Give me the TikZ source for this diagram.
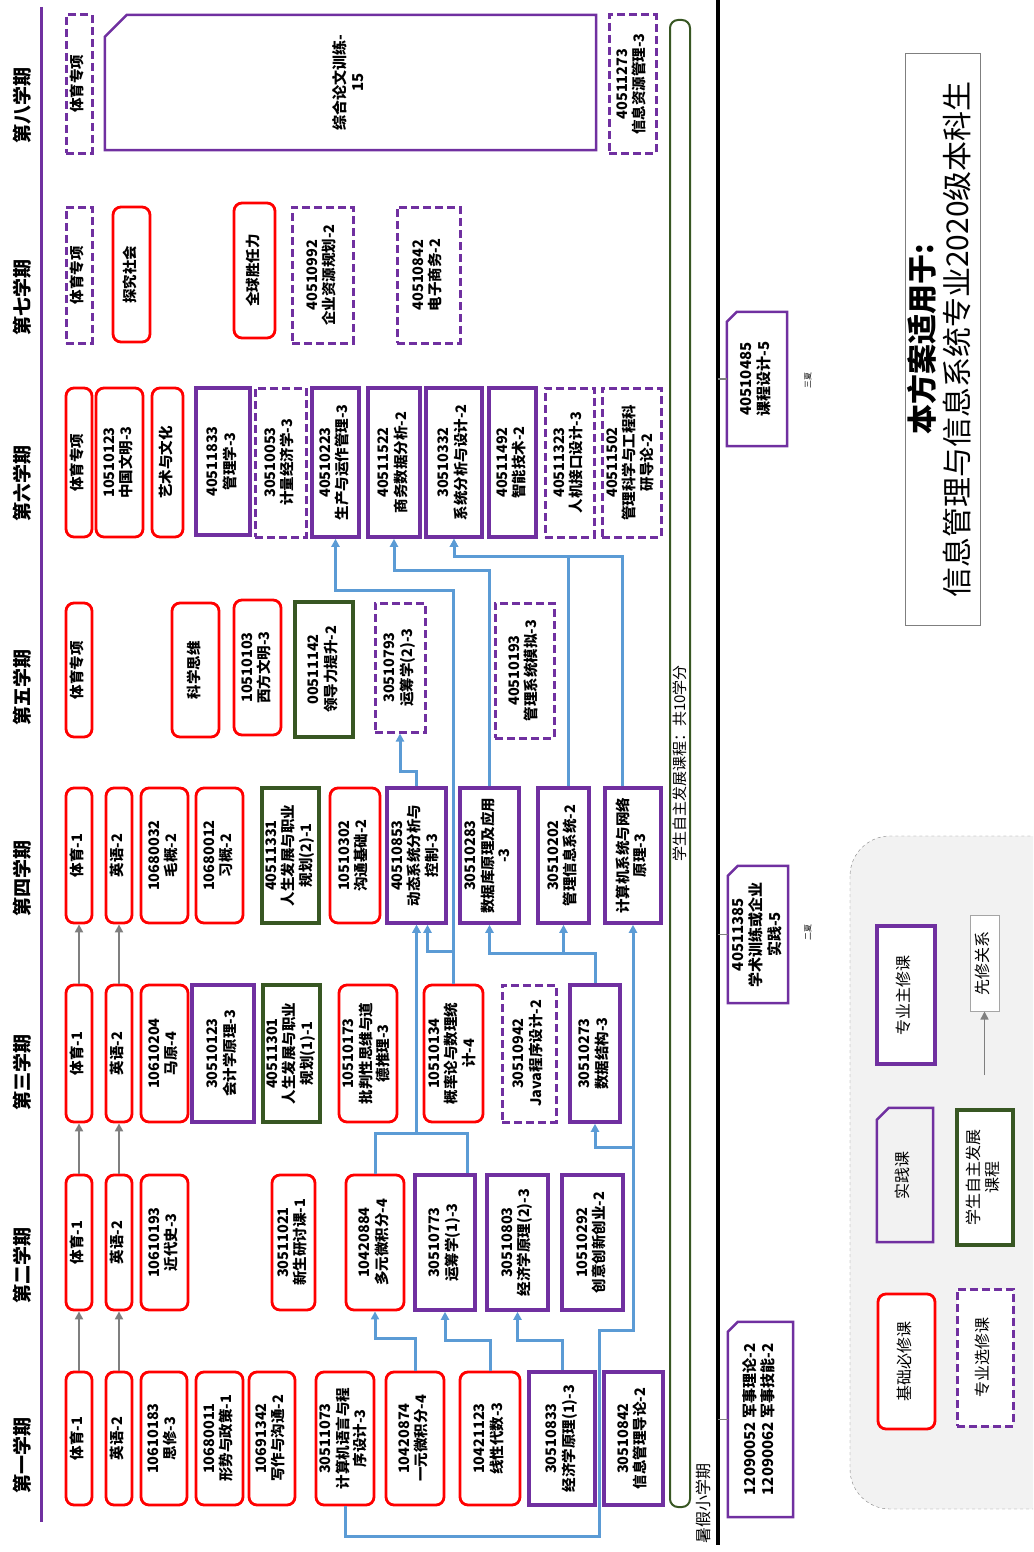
\documentclass[tikz,border=0pt]{standalone}
\usepackage{fontspec}
\setmainfont{Noto Sans CJK SC}
\usepackage{tikz}
\usetikzlibrary{arrows.meta}
\usepackage{xcolor}
\definecolor{redc}{HTML}{FF0000}
\definecolor{purp}{HTML}{7030A0}
\definecolor{grn}{HTML}{385723}
\definecolor{blu}{HTML}{5B9BD5}
\definecolor{gry}{HTML}{7F7F7F}

% course box: name, style, x1, y1, x2, y2, text
\newcommand{\course}[7]{%
  \node[#2, minimum width={#5-#3}, minimum height={#6-#4}] (#1) at ({(#3+#5)/2},{(#4+#6)/2})
    {\rotatebox{90}{\begin{tabular}{@{}c@{}}#7\end{tabular}}};}
% cut corner outline for practice boxes
\newcommand{\cutbox}[2]{%
  \draw[pracline] (#1.south west) -- (#1.south east) -- (#1.north east)
    -- ([xshift=#2]#1.north west) -- ([yshift=-#2]#1.north west) -- cycle;}

\begin{document}
\begin{tikzpicture}[x=1pt, y=-1pt,
    crs/.style={inner sep=0pt, fill=white, font=\bfseries\fontsize{14.5}{16.5}\selectfont},
    base/.style={crs, draw=redc, line width=2.8pt, rounded corners=8pt},
    major/.style={crs, draw=purp, line width=3.5pt},
    elect/.style={crs, draw=purp, line width=3pt, dash pattern=on 8pt off 4pt},
    self/.style={crs, draw=grn, line width=3.5pt},
    prac/.style={crs, fill=none, font=\bfseries\fontsize{15}{18}\selectfont},
    pracline/.style={draw=purp, line width=2.5pt},
    note/.style={crs, draw=gry!70, line width=1pt},
    lgf/.style={font=\fontsize{16}{19}\selectfont},
    pre/.style={draw=blu, line width=3pt, -{Triangle[length=8pt,width=8pt]}},
    seq/.style={draw=gry, line width=2.5pt, -{Triangle[length=8pt,width=8pt]}},
    tick/.style={draw=gry, line width=1.5pt},
    semlab/.style={rotate=90, font=\bfseries\fontsize{19}{21}\selectfont}]
  \useasboundingbox (0,0) rectangle (1033,1552);

  % legend background
  \begin{scope}
    \clip (0,0) rectangle (1033,1552);
    \draw[gray, dashed, fill=gray!10, rounded corners=40pt] (850,836) rectangle (1075,1509);
  \end{scope}

  % semester labels and left line
  \node[semlab] (sem8) at (22,105) {第八学期};
  \node[semlab] (sem7) at (22,297) {第七学期};
  \node[semlab] (sem6) at (22,483) {第六学期};
  \node[semlab] (sem5) at (22,687) {第五学期};
  \node[semlab] (sem4) at (22,878) {第四学期};
  \node[semlab] (sem3) at (22,1072) {第三学期};
  \node[semlab] (sem2) at (22,1265) {第二学期};
  \node[semlab] (sem1) at (22,1455) {第一学期};
  \draw[purp, line width=3pt] (41,7) -- (41,1522);

  % self development band
  \node[draw=grn, line width=2pt, rounded corners=8pt, minimum width=20, minimum height=1487,
        inner sep=0pt, font=\fontsize{15}{17}\selectfont] (band) at (680,763.5)
    {\rotatebox{90}{学生自主发展课程：共10学分}};

  % semester 8
  \course{s8ty}{elect}{66}{15}{92}{153}{体育专项}
  \course{s8lw}{prac}{105}{15}{596}{150}{综合论文训练-\\15}
  \cutbox{s8lw}{22}
  \course{s8zy}{elect}{609}{15}{656}{153}{40511273\\信息资源管理-3}

  % semester 7
  \course{s7ty}{elect}{66}{207}{92}{343}{体育专项}
  \course{s7ts}{base}{113}{207}{150}{342}{探究社会}
  \course{s7qq}{base}{234}{203}{275}{338}{全球胜任力}
  \course{s7erp}{elect}{292}{207}{353}{343}{40510992\\企业资源规划-2}
  \course{s7ds}{elect}{397}{207}{460}{343}{40510842\\电子商务-2}

  % semester 6
  \course{s6ty}{base}{66}{388}{92}{537}{体育专项}
  \course{s6zg}{base}{96}{388}{143}{537}{10510123\\中国文明-3}
  \course{s6ys}{base}{152}{388}{183}{537}{艺术与文化}
  \course{s6gl}{major}{196}{388}{250}{535}{40511833\\管理学-3}
  \course{s6jl}{elect}{255}{388}{306}{537}{30510053\\计量经济学-3}
  \course{s6sc}{major}{312}{388}{359}{537}{40510223\\生产与运作管理-3}
  \course{s6sw}{major}{368}{388}{420}{537}{40511522\\商务数据分析-2}
  \course{s6xt}{major}{426}{388}{482}{537}{30510332\\系统分析与设计-2}
  \course{s6zn}{major}{489}{388}{536}{537}{40511492\\智能技术-2}
  \course{s6rj}{elect}{545}{388}{594}{537}{40511323\\人机接口设计-3}
  \course{s6ky}{elect}{602}{388}{661}{537}{40511502\\管理科学与工程科\\研导论-2}

  % semester 5
  \course{s5ty}{base}{66}{603}{92}{737}{体育专项}
  \course{s5kx}{base}{172}{603}{219}{737}{科学思维}
  \course{s5xf}{base}{234}{600}{281}{735}{10510103\\西方文明-3}
  \course{s5ld}{self}{295}{602}{353}{737}{00511142\\领导力提升-2}
  \course{s5yc}{elect}{375}{603}{425}{732}{30510793\\运筹学(2)-3}
  \course{s5mn}{elect}{495}{603}{554}{738}{40510193\\管理系统模拟-3}

  % semester 4
  \course{s4ty}{base}{66}{788}{92}{923}{体育-1}
  \course{s4yy}{base}{106}{788}{132}{923}{英语-2}
  \course{s4mg}{base}{141}{788}{188}{923}{10680032\\毛概-2}
  \course{s4xg}{base}{196}{788}{243}{923}{10680012\\习概-2}
  \course{s4rs}{self}{262}{788}{319}{923}{40511331\\人生发展与职业\\规划(2)-1}
  \course{s4gt}{base}{330}{788}{380}{923}{10510302\\沟通基础-2}
  \course{s4dt}{major}{387}{788}{446}{923}{40510853\\动态系统分析与\\控制-3}
  \course{s4sj}{major}{460}{788}{519}{923}{30510283\\数据库原理及应用\\-3}
  \course{s4gx}{major}{538}{788}{589}{923}{30510202\\管理信息系统-2}
  \course{s4js}{major}{605}{788}{661}{923}{计算机系统与网络\\原理-3}

  % semester 3
  \course{s3ty}{base}{66}{985}{92}{1122}{体育-1}
  \course{s3yy}{base}{106}{985}{132}{1122}{英语-2}
  \course{s3my}{base}{141}{985}{188}{1122}{10610204\\马原-4}
  \course{s3kj}{major}{192}{985}{254}{1122}{30510123\\会计学原理-3}
  \course{s3rs}{self}{263}{985}{320}{1122}{40511301\\人生发展与职业\\规划(1)-1}
  \course{s3pp}{base}{339}{985}{397}{1122}{10510173\\批判性思维与道\\德推理-3}
  \course{s3gl}{base}{424}{985}{483}{1122}{10510134\\概率论与数理统\\计-4}
  \course{s3jv}{elect}{502}{985}{556}{1122}{30510942\\Java程序设计-2}
  \course{s3sj}{major}{570}{985}{620}{1122}{30510273\\数据结构-3}

  % semester 2
  \course{s2ty}{base}{66}{1175}{92}{1310}{体育-1}
  \course{s2yy}{base}{106}{1175}{132}{1310}{英语-2}
  \course{s2jd}{base}{141}{1175}{188}{1310}{10610193\\近代史-3}
  \course{s2xs}{base}{272}{1175}{315}{1310}{30511021\\新生研讨课-1}
  \course{s2dy}{base}{346}{1175}{404}{1310}{10420884\\多元微积分-4}
  \course{s2yc}{major}{415}{1175}{475}{1310}{30510773\\运筹学(1)-3}
  \course{s2jj}{major}{487}{1175}{548}{1310}{30510803\\经济学原理(2)-3}
  \course{s2cy}{major}{562}{1175}{623}{1310}{10510292\\创意创新创业-2}

  % semester 1
  \course{s1ty}{base}{66}{1372}{92}{1505}{体育-1}
  \course{s1yy}{base}{106}{1372}{132}{1505}{英语-2}
  \course{s1sx}{base}{141}{1372}{187}{1505}{10610183\\思修-3}
  \course{s1xs}{base}{196}{1372}{243}{1505}{10680011\\形势与政策-1}
  \course{s1xz}{base}{249}{1372}{295}{1505}{10691342\\写作与沟通-2}
  \course{s1jc}{base}{316}{1372}{374}{1505}{30511073\\计算机语言与程\\序设计-3}
  \course{s1yw}{base}{386}{1372}{444}{1505}{10420874\\一元微积分-4}
  \course{s1xd}{base}{460}{1372}{520}{1505}{10421123\\线性代数-3}
  \course{s1jj}{major}{529}{1372}{595}{1505}{30510833\\经济学原理(1)-3}
  \course{s1xg}{major}{604}{1372}{663}{1505}{30510842\\信息管理导论-2}

  % same course each semester
  \foreach \a/\b in {s1ty/s2ty, s2ty/s3ty, s3ty/s4ty, s1yy/s2yy, s2yy/s3yy, s3yy/s4yy}
    \draw[seq] (\a) -- (\b);

  % prerequisites
  \draw[pre] (s1yw.north) -- ++(0,-32) -| (s2dy.south);
  \draw[pre] (s1xd.north) -- ++(0,-30) -| (s2yc.south);
  \draw[pre] (s1jj.north) -- ++(0,-30) -| (s2jj.south);
  \draw[pre] (s1jc.south) -- ++(0,30) -| (599.5,1330) -| (s4js.south);
  \draw[pre] (s1jc.south) -- ++(0,30) -| (599.5,1330) -| (633,1147) -| (s3sj.south);
  \draw[pre] (s2dy.north) -- ++(0,-40) -| (s4dt.south);
  \draw[pre] ([xshift=22]s2yc.north) -- ++(0,-40) -| (s4dt.south);
  \draw[pre] (s3gl.north) -- ++(0,-32) -| ([xshift=11]s4dt.south);
  \draw[pre] (s3gl.north) -- ++(0,-393) -| (s6sc.south);
  \draw[pre] (s3sj.north) -- ++(0,-30) -| (s4sj.south);
  \draw[pre] (s3sj.north) -- ++(0,-30) -| (s4gx.south);
  \draw[pre] (s4dt.north) -- ++(0,-15) -| (s5yc.south);
  \draw[pre] (s4sj.north) -- ++(0,-216) -| (s6sw.south);
  \draw[pre] ([xshift=5]s4gx.north) -- ++(0,-230) -| (s6xt.south);
  \draw[pre] ([xshift=-11]s4js.north) -- ++(0,-230) -| (s6xt.south);

  % summer terms
  \coordinate (axtop) at (718,0);
  \coordinate (axbot) at (718,1545);
  \draw[line width=4pt] (axtop) -- (axbot);
  \course{pr6}{prac}{727}{312}{787}{446}{40510485\\课程设计-5}
  \cutbox{pr6}{10}
  \course{pr4}{prac}{728}{866}{788}{1003}{40511385\\学术训练或企业\\实践-5}
  \cutbox{pr4}{10}
  \course{pr2}{prac}{728}{1322}{793}{1517}{12090052 军事理论-2\\12090062 军事技能-2}
  \cutbox{pr2}{10}
  \draw[tick] (pr6.west) -- (pr6.west -| axtop);
  \draw[tick] (pr4.west) -- (pr4.west -| axtop);
  \draw[tick] (pr2.west) -- (pr2.west -| axtop);
  \node[rotate=90, font=\fontsize{8}{9}\selectfont] (sx3) at (808,380) {三夏};
  \node[rotate=90, font=\fontsize{8}{9}\selectfont] (sx2) at (808,932) {二夏};
  \node[rotate=90, font=\fontsize{16}{18}\selectfont] (sxlab) at (703,1503) {暑假小学期};

  % title
  \node[draw=gry, line width=1pt, minimum width=75, minimum height=571, inner sep=0pt,
        font=\fontsize{30}{31}\selectfont] (title) at (942.5,339.5)
    {\rotatebox{90}{\begin{tabular}{@{}c@{}}{\bfseries 本方案适用于:}\\信息管理与信息系统专业2020级本科生\end{tabular}}};

  % legend
  \course{lgzx}{major,lgf}{877}{926}{935}{1064}{专业主修课}
  \course{lgsj}{prac,lgf}{877}{1108}{933}{1242}{实践课}
  \cutbox{lgsj}{12}
  \course{lgjc}{base,lgf}{878}{1294}{935}{1429}{基础必修课}
  \course{lgxg}{note,lgf}{970}{915}{999}{1011}{先修关系}
  \course{lgzz}{self,lgf}{957}{1110}{1013}{1245}{学生自主发展\\课程}
  \course{lgzy}{elect,lgf}{957}{1289}{1013}{1426}{专业选修课}
  \coordinate (lgarr) at (984.5,1075);
  \draw[seq, line width=1.5pt] (lgarr) -- (lgxg.south);
\end{tikzpicture}
\end{document}
